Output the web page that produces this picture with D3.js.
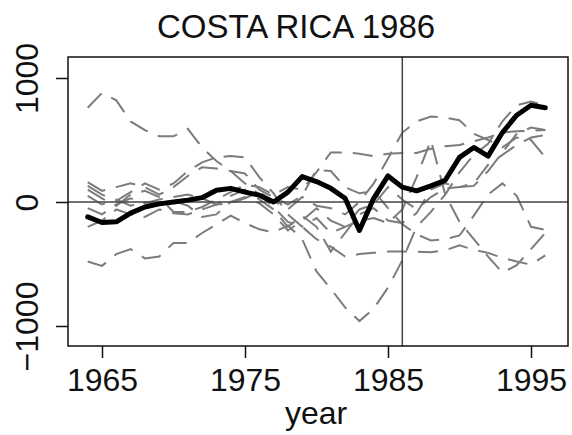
<!DOCTYPE html>
<html>
<head>
<meta charset="utf-8">
<script src="https://cdn.jsdelivr.net/npm/d3@7"></script>
<style>
  body { margin: 0; background: #fff; }
  svg { display: block; font-family: "Liberation Sans", Arial, sans-serif; }
</style>
</head>
<body>
<div id="chart"></div>
<script>
const years = d3.range(1964, 1997)
const xTicks = [1965, 1975, 1985, 1995]
const yTicks = [-1000, 0, 1000]
const yTickLabels = ['\u22121000', '0', '1000']
const treatYear = 1986

// Costa Rica gap (thick black)
const costaRica = [-120, -165, -160, -90, -40, -15, 0, 15, 35, 95, 110, 80, 55, 0, 80, 205, 165, 110, 30, -230, 30, 210, 120, 90, 130, 175, 360, 440, 370, 560, 700, 780, 760]

// placebo gaps (grey dashed)
const placebo1 = [760, 880, 820, 650, 580, 530, 530, 590, 440, 330, 250, 150, 60, -40, -160, -200, -300, -360, -440, -420, -410, -400, -400, -400, -405, -390, -350, -385, -410, -450, -480, -505, -430]
const placebo2 = [-480, -515, -420, -380, -455, -440, -330, -330, -250, -180, -110, -170, -220, -245, -190, -300, -560, -700, -850, -960, -860, -690, -470, -200, -80, 60, 240, 380, 470, 650, 780, 810, 780]
const placebo3 = [-50, -100, -20, 30, -10, 20, 40, 60, 30, -20, -10, 30, 80, 10, -60, 40, -30, -50, -100, 0, 150, 350, 560, 650, 690, 680, 660, 550, 500, 440, 520, 500, 360]
const placebo4 = [100, 30, -30, 60, 90, 40, -80, -80, -40, 20, 80, 140, 120, 60, 120, 100, 240, 400, 400, 390, 370, 390, 395, 395, 430, 450, 460, 490, 520, 560, 570, 575, 580]
const placebo5 = [130, 60, 10, 80, 150, 100, 150, 250, 320, 360, 370, 360, 200, 70, -100, -200, -130, -250, -200, -150, -130, -170, -60, 200, 500, 60, -160, -300, -440, -570, -510, -380, -250]
const placebo6 = [160, 90, 120, 150, 120, 60, 120, 210, 280, 270, 250, 230, 100, 40, -20, 50, 260, 250, 120, 70, 90, -50, -180, -260, -310, -300, -270, -110, 60, 150, 50, -200, -225]
const placebo7 = [-200, -150, -60, -100, -120, -60, -90, -100, -60, -20, 50, 100, 20, -60, -200, -110, -200, -400, -250, -100, -50, -150, -170, -90, 100, 150, 120, 130, 250, 400, 550, 600, 580]
const placebo8 = [50, -20, 20, -30, 0, -20, 10, -30, -120, -100, 0, 40, -10, -100, -230, -150, -50, -150, -200, -60, -20, 120, 20, -60, 40, 110, 120, 150, 300, 380, 460, 520, 540]

const placebos = [placebo1, placebo2, placebo3, placebo4, placebo5, placebo6, placebo7, placebo8]

const width = 572
const height = 435
const box = { left: 68, right: 568, top: 57, bottom: 346 }

const svg = d3.select('#chart')
    .append('svg')
    .attr('width', width)
    .attr('height', height)

const x = d3.scaleLinear().domain([1965, 1995]).range([102, 531])
const y = d3.scaleLinear().domain([-1000, 1000]).range([326, 78])

const line = d3.line()
    .x((d, i) => x(years[i]))
    .y((d) => y(d))

const plot = svg.append('g')

plot.selectAll('.placebo')
    .data(placebos)
    .enter().append('path')
    .attr('class', 'placebo')
    .attr('d', line)
    .attr('fill', 'none')
    .attr('stroke', '#7c7c7c')
    .attr('stroke-width', 2)
    .attr('stroke-dasharray', '20,11')

// reference lines at zero and treatment year
plot.append('line')
    .attr('x1', box.left).attr('x2', box.right)
    .attr('y1', y(0)).attr('y2', y(0))
    .attr('stroke', '#444').attr('stroke-width', 1.5)

plot.append('line')
    .attr('x1', x(treatYear)).attr('x2', x(treatYear))
    .attr('y1', box.top).attr('y2', box.bottom)
    .attr('stroke', '#444').attr('stroke-width', 1.5)

plot.append('path')
    .datum(costaRica)
    .attr('d', line)
    .attr('fill', 'none')
    .attr('stroke', '#000')
    .attr('stroke-width', 5)
    .attr('stroke-linejoin', 'round')
    .attr('stroke-linecap', 'round')

// box
svg.append('rect')
    .attr('x', box.left).attr('y', box.top)
    .attr('width', box.right - box.left)
    .attr('height', box.bottom - box.top)
    .attr('fill', 'none')
    .attr('stroke', '#111')
    .attr('stroke-width', 1.5)

// x axis
const xAxis = svg.append('g')
    .attr('transform', 'translate(0,' + box.bottom + ')')
    .call(d3.axisBottom(x).tickValues(xTicks).tickSize(12).tickFormat(d3.format('d')))
xAxis.select('.domain').remove()
xAxis.selectAll('line').attr('stroke', '#111').attr('stroke-width', 1.5)
xAxis.selectAll('text')
    .attr('y', 45)
    .attr('dy', 0)
    .attr('fill', '#111')
    .style('font-size', '32px')

// y axis (labels rotated, as in R's default las)
const yAxis = svg.append('g')
    .attr('transform', 'translate(' + box.left + ',0)')
    .call(d3.axisLeft(y).tickValues(yTicks).tickSize(12).tickFormat((d, i) => yTickLabels[i]))
yAxis.select('.domain').remove()
yAxis.selectAll('line').attr('stroke', '#111').attr('stroke-width', 1.5)
yAxis.selectAll('text')
    .attr('x', null).attr('dy', null)
    .attr('text-anchor', 'middle')
    .attr('transform', 'translate(' + (38 - box.left) + ',0) rotate(-90)')
    .attr('fill', '#111')
    .style('font-size', '32px')

svg.append('text')
    .attr('x', 296).attr('y', 38)
    .attr('text-anchor', 'middle')
    .attr('fill', '#111')
    .style('font-size', '33px')
    .text('COSTA RICA 1986')

svg.append('text')
    .attr('x', 316).attr('y', 424)
    .attr('text-anchor', 'middle')
    .attr('fill', '#111')
    .style('font-size', '32px')
    .text('year')
</script>
</body>
</html>
